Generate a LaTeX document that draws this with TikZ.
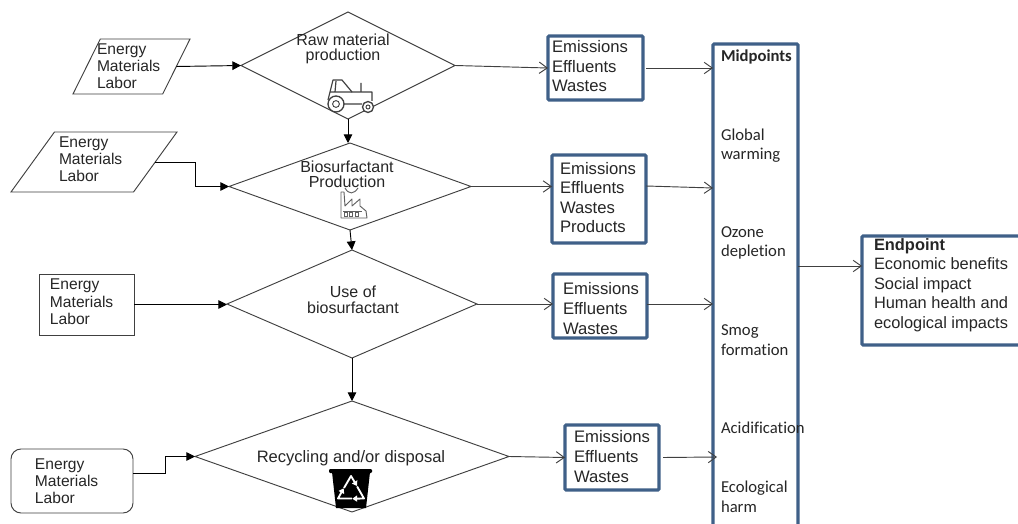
\documentclass[tikz,border=0pt]{standalone}
\usepackage{fontspec}
\setmainfont{Liberation Sans}
\newfontfamily\calibrilike[Ligatures=NoCommon]{Carlito}
\usetikzlibrary{shapes.geometric,arrows.meta}
\definecolor{bluebox}{HTML}{3F6088}
\definecolor{linegray}{HTML}{404040}
\definecolor{txt}{HTML}{262626}
\tikzset{
  sz/.style 2 args={minimum width=#1*0.75pt,minimum height=#2*0.75pt},
  flow/.style={draw=linegray,line width=0.7pt,inner sep=1pt,outer sep=0pt},
  diam/.style={flow,diamond},
  para/.style={flow,trapezium,trapezium stretches=true},
  bluerect/.style={draw=bluebox,line width=2.4pt,rounded corners=0.8pt,inner sep=0pt,outer sep=0pt,fill=white},
  inlabel/.style={inner sep=0pt,outer sep=0pt,align=left,anchor=base west,text=txt,font=\fontsize{11.7}{12.75}\selectfont},
  emlabel/.style={inner sep=0pt,outer sep=0pt,align=left,anchor=base west,text=txt,font=\fontsize{12.5}{14.7}\selectfont},
  dlabel/.style={inner sep=0pt,outer sep=0pt,align=center,anchor=base,text=txt,font=\fontsize{12}{11.8}\selectfont},
  midlabel/.style={inner sep=0pt,outer sep=0pt,align=left,anchor=base west,text=txt,font=\calibrilike\fontsize{12.5}{14.5}\selectfont},
  solidarrow/.style={draw=black,line width=0.7pt,-{Triangle[length=6.5pt,width=6.5pt]}},
  openarrow/.style={draw=linegray,line width=0.7pt,-{Straight Barb[length=6pt,width=8.5pt]}},
  icon/.style={draw=linegray,line width=0.7pt,fill=white}
}
\begin{document}
\begin{tikzpicture}[x=0.75pt,y=-0.75pt]
\useasboundingbox (0,0) rectangle (1018,524);
\clip (0,0) rectangle (1018,524);
\fill[white] (0,0) rectangle (1018,524);

% process diamonds
\node[diam,sz={214}{107}] (d1) at (348,65.5) {};
\node[diam,sz={242}{87}] (d2) at (350,186.5) {};
\node[diam,sz={250}{108}] (d3) at (352,304) {};
\node[diam,sz={314}{111}] (d4) at (352,456.5) {};

% input shapes
\node[para,sz={117}{55},trapezium left angle=66.4,trapezium right angle=113.6] (p1) at (131.5,66.5) {};
\node[para,sz={166}{60},trapezium left angle=61.2,trapezium right angle=118.8] (p2) at (94,162) {};
\node[flow,rectangle,sz={95}{61}] (r3) at (86.5,304.5) {};
\node[flow,rectangle,rounded corners=7.5pt,sz={122}{64}] (r4) at (72,481) {};

% output boxes
\node[bluerect,sz={95}{64}] (b1) at (595.5,68) {};
\node[bluerect,sz={94}{88}] (b2) at (599,199) {};
\node[bluerect,sz={94}{64}] (b3) at (600,306) {};
\node[bluerect,sz={94}{65}] (b4) at (612,457.5) {};
\node[bluerect,sz={85}{500}] (mid) at (755.5,294) {};
\node[bluerect,sz={165}{109}] (endp) at (944.5,290.5) {};

% input text
\node[inlabel] (tp1) at (97,89) {Energy\\Materials\\Labor};
\node[inlabel] (tp2) at (59,182) {Energy\\Materials\\Labor};
\node[inlabel] (tr3) at (50,324) {Energy\\Materials\\Labor};
\node[inlabel] (tr4) at (35,503) {Energy\\Materials\\Labor};

% diamond text
\node[dlabel] (td1) at (343,61) {Raw material\\production};
\node[dlabel] (td2) at (347,188) {Biosurfactant\\Production};
\node[dlabel] (td3) at (353,313) {Use of\\biosurfactant};
\node[dlabel,font=\fontsize{12.4}{14}\selectfont] (td4) at (351,462) {Recycling and/or disposal};

% output text
\node[emlabel] (tb1) at (552,92) {Emissions\\Effluents\\Wastes};
\node[emlabel] (tb2) at (560,233) {Emissions\\Effluents\\Wastes\\Products};
\node[emlabel] (tb3) at (563,334) {Emissions\\Effluents\\Wastes};
\node[emlabel] (tb4) at (574,482) {Emissions\\Effluents\\Wastes};

% midpoints text
\node[midlabel,font=\calibrilike\bfseries\fontsize{12.5}{14.5}\selectfont] (tm0) at (721,62) {Midpoints};
\node[midlabel] (tm1) at (721,160) {Global\\warming};
\node[midlabel] (tm2) at (721,257) {Ozone\\depletion};
\node[midlabel] (tm3) at (721,355) {Smog\\formation};
\node[midlabel] (tm4) at (721,433) {Acidification};
\node[midlabel] (tm5) at (721,512) {Ecological\\harm};

% endpoint text
\node[emlabel,font=\fontsize{12.3}{14.6}\selectfont] (te) at (874,328) {\textbf{Endpoint}\\Economic benefits\\Social impact\\Human health and\\ecological impacts};

% free connector ends
\coordinate (m1) at (713,68);
\coordinate (m2) at (713,188);
\coordinate (m3) at (713,304);
\coordinate (m4) at (717,457);
\coordinate (ey) at (830,266);
\coordinate (b2out) at (646,186);
\coordinate (j2a) at (195,162);
\coordinate (j4a) at (165,473);

% connectors: inputs
\draw[solidarrow] (p1.east) -- (d1.west);
\draw[solidarrow] (p2.east) -- (j2a) -- (j2a |- d2.west) -- (d2.west);
\draw[solidarrow] (r3.east) -- (r3.east -| d3.west);
\draw[solidarrow] (r4.east |- j4a) -- (j4a) -- (j4a |- d4.west) -- (d4.west);

% connectors: process chain
\draw[solidarrow] (d1.south) -- (d1.south |- d2.north);
\draw[solidarrow] (d2.south) -- (d3.north);
\draw[solidarrow] (d3.south) -- (d4.north);

% connectors: outputs
\draw[openarrow] (d1.east) -- (b1.west);
\draw[openarrow] (d2.east) -- (d2.east -| b2.west);
\draw[openarrow] (d3.east) -- (d3.east -| b3.west);
\draw[openarrow] (d4.east) -- (b4.west);
\draw[openarrow] ([xshift=2.25pt]b1.east) -- (m1);
\draw[openarrow] (b2out) -- (m2);
\draw[openarrow] (m3 -| b3.east) -- (m3);
\draw[openarrow] ([xshift=3pt]b4.east) -- (m4);
\draw[openarrow] (ey -| mid.east) -- (ey -| endp.west);

% tractor icon
\draw[icon,fill=none,line width=0.9pt,line join=round] (328,100) -- (330,92) -- (333,80) -- (342,80) -- (352,92) -- (372,92) -- (372,101);
\draw[linegray,line width=0.9pt] (330,92) -- (352,92) (361,83) -- (361,92) (344,104) -- (362,104) (336,81) -- (335,92);
\draw[icon,line width=1pt] (336,104) circle[radius=8];
\draw[icon] (336,104) circle[radius=3.4];
\draw[icon,line width=1pt] (368,107) circle[radius=5.5];
\draw[icon] (368,107) circle[radius=2];

% factory icon
\begin{scope}[draw=gray!75!black]
\draw[line width=0.7pt,line join=round] (341,218) -- (341,192) -- (344,192) -- (345,206) -- (352,199) -- (352,206) -- (360,199) -- (360,206) -- (366,211) -- (367,218) -- cycle;
\draw[line width=0.7pt] (345,188) .. controls (349,195) and (354,194) .. (358,188);
\draw[line width=0.7pt] (343,211) -- (362,211);
\draw[line width=0.7pt] (344,212.5) rectangle (347,216) (349,212.5) rectangle (352,216) (355,212.5) rectangle (358,216);
\end{scope}

% recycling bin icon
\fill[black,rounded corners=0.8pt] (329,469) rectangle (372,473);
\fill[black] (332,472) -- (370,472) -- (366,508) -- (336,508) -- cycle;
\foreach \a in {0,120,240}{
  \draw[white,line width=1.4pt,line join=round,rotate around={\a:(351,491)},-{Triangle[length=3.6pt,width=4.6pt]}] (344,488) -- (351,476) -- (357,486);
}
\end{tikzpicture}
\end{document}
